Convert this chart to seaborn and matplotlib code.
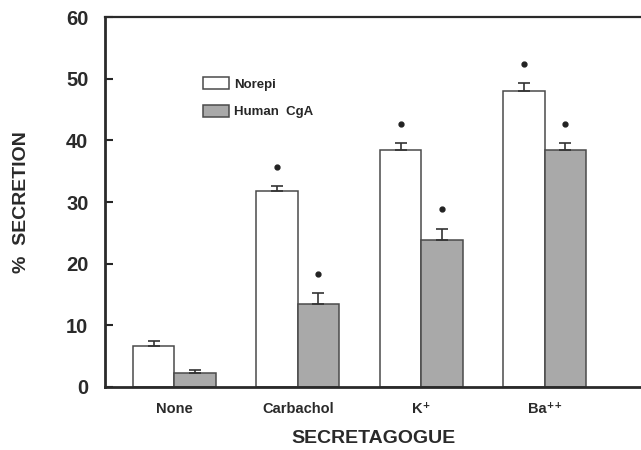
import pandas as pd
import seaborn as sns
import matplotlib.pyplot as plt
from matplotlib.patches import Patch

# values (% secretion, mean and SEM)
secretagogues = ["None", "Carbachol", "K⁺", "Ba⁺⁺"]
norepi = [6.7, 31.8, 38.4, 48.0]
norepi_sem = [0.7, 0.8, 1.1, 1.3]
cga = [2.3, 13.5, 23.8, 38.5]
cga_sem = [0.4, 1.7, 1.9, 1.1]
significant = [False, True, True, True]
series = ["Norepi", "Human  CgA"]
colors = ["white", "#a9a9a9"]

df = pd.DataFrame({
    "secretagogue": secretagogues * 2,
    "series": [series[0]] * 4 + [series[1]] * 4,
    "value": norepi + cga,
})

sns.set_style("white")
plt.rcParams["font.family"] = ["Liberation Sans", "DejaVu Sans"]
plt.rcParams["font.weight"] = "bold"

fig = plt.figure(figsize=(6.41, 4.5), dpi=100)
ax = fig.add_axes([0.164, 0.14, 0.836, 0.822])

sns.barplot(data=df, x="secretagogue", y="value", hue="series",
            order=secretagogues, hue_order=series, palette=colors,
            width=0.67, errorbar=None, edgecolor="#4a4a4a", linewidth=1.1,
            legend=False, ax=ax)

# upward-only error bars plus asterisks for significant groups
for cont, means, sems in zip(ax.containers, [norepi, cga], [norepi_sem, cga_sem]):
    xs = [p.get_x() + p.get_width() / 2 for p in cont.patches]
    ax.errorbar(xs, means, yerr=[[0] * len(sems), sems], fmt="none",
                ecolor="#333333", elinewidth=1.2, capsize=4.5, capthick=1.2)
    for x, m, s, sig in zip(xs, means, sems, significant):
        if sig:
            ax.plot(x, m + s + 3.1, "o", color="#222222", markersize=3.5)

ax.set_xlim(-0.56, 3.78)
ax.set_ylim(0, 60)
ax.set_yticks(range(0, 61, 10))
ax.tick_params(axis="y", direction="in", length=6, width=1.5, left=True,
               labelsize=14.5, pad=12)
ax.tick_params(axis="x", length=0, labelsize=10.5, pad=11)
for lab in ax.get_yticklabels() + ax.get_xticklabels():
    lab.set_fontweight("bold")
    lab.set_color("#2a2a2a")

for side in ["left", "bottom"]:
    ax.spines[side].set_linewidth(2)
    ax.spines[side].set_color("#2a2a2a")
ax.spines["top"].set_linewidth(1.6)
ax.spines["top"].set_color("#2a2a2a")
ax.spines["right"].set_visible(False)

ax.set_xlabel("SECRETAGOGUE", fontsize=14, fontweight="bold", color="#2a2a2a",
              labelpad=10)
ax.set_ylabel("%  SECRETION", fontsize=14, fontweight="bold", color="#2a2a2a",
              labelpad=26)

handles = [Patch(facecolor=c, edgecolor="#4a4a4a", linewidth=1.1) for c in colors]
ax.legend(handles, series, loc="upper left", bbox_to_anchor=(0.16, 0.87),
          frameon=False, handlelength=2.0, handleheight=1.05, labelspacing=1.05,
          prop={"size": 9.5, "weight": "bold"}, handletextpad=0.4)

plt.savefig("out.png", dpi=100)
